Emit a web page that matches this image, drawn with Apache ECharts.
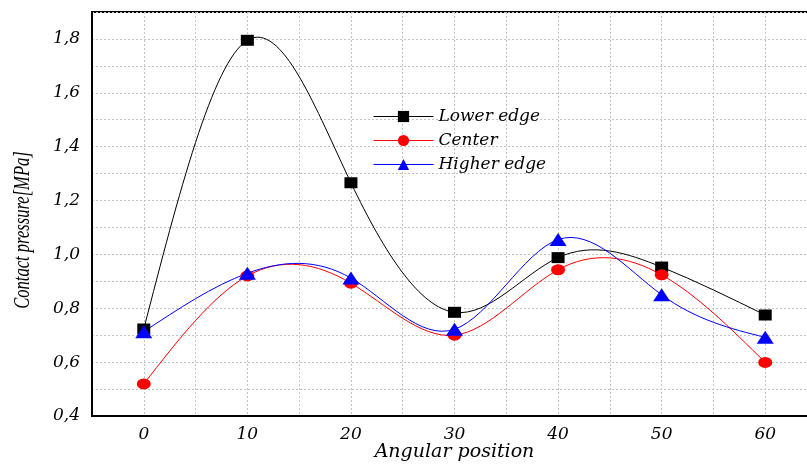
<!DOCTYPE html>
<html>
<head>
<meta charset="utf-8">
<script src="https://cdn.jsdelivr.net/npm/echarts@6/dist/echarts.min.js"></script>
<style>
  html, body { margin: 0; padding: 0; background: #fff; overflow: hidden; }
  #chart { width: 830px; height: 465px; }
</style>
</head>
<body>
<div id="chart"></div>
<script>
// angular positions (x values)
const angles = [0, 10, 20, 30, 40, 50, 60]
const lowerEdge = [0.723, 1.795, 1.266, 0.785, 0.988, 0.953, 0.775]
const center = [0.519, 0.92, 0.893, 0.70, 0.943, 0.924, 0.599]
const higherEdge = [0.713, 0.93, 0.912, 0.722, 1.055, 0.85, 0.692]
const yTickLabels = ['0,4', '0,6', '0,8', '1,0', '1,2', '1,4', '1,6', '1,8']
const xTickLabels = ['0', '10', '20', '30', '40', '50', '60']

const font = 'DejaVu Serif'
const pairs = ys => angles.map((a, i) => [a, ys[i]])

const chart = echarts.init(document.getElementById('chart'))

const gridLine = {
  show: true,
  lineStyle: { color: '#c4c4c4', type: [2, 2], width: 1 }
}

// natural cubic spline through the pixel positions, drawn as bezier pieces
const splineCurve = (data, color) => ({
  type: 'custom',
  name: '_curve',
  data: data,
  z: 2,
  silent: true,
  renderItem: (params, api) => {
    if (params.dataIndex !== 0) return null
    const pts = data.map(d => api.coord(d))
    const n = pts.length
    const h = []
    for (let i = 0; i < n - 1; i++) h.push(pts[i + 1][0] - pts[i][0])
    // solve for second derivatives (natural ends)
    const a = [], b = [], c = [], r = []
    for (let i = 1; i < n - 1; i++) {
      a.push(h[i - 1]); b.push(2 * (h[i - 1] + h[i])); c.push(h[i])
      r.push(6 * ((pts[i + 1][1] - pts[i][1]) / h[i] - (pts[i][1] - pts[i - 1][1]) / h[i - 1]))
    }
    for (let i = 1; i < b.length; i++) {
      const w = a[i] / b[i - 1]
      b[i] -= w * c[i - 1]; r[i] -= w * r[i - 1]
    }
    const s = new Array(b.length)
    for (let i = b.length - 1; i >= 0; i--) {
      s[i] = (r[i] - (i < b.length - 1 ? c[i] * s[i + 1] : 0)) / b[i]
    }
    const M = [0].concat(s, [0])
    const children = []
    for (let i = 0; i < n - 1; i++) {
      const dy = (pts[i + 1][1] - pts[i][1]) / h[i]
      const d0 = dy - h[i] * (2 * M[i] + M[i + 1]) / 6
      const d1 = dy + h[i] * (M[i] + 2 * M[i + 1]) / 6
      children.push({
        type: 'bezierCurve',
        shape: {
          x1: pts[i][0], y1: pts[i][1],
          cpx1: pts[i][0] + h[i] / 3, cpy1: pts[i][1] + d0 * h[i] / 3,
          cpx2: pts[i + 1][0] - h[i] / 3, cpy2: pts[i + 1][1] - d1 * h[i] / 3,
          x2: pts[i + 1][0], y2: pts[i + 1][1]
        },
        style: { stroke: color, fill: null, lineWidth: 1 }
      })
    }
    return { type: 'group', children: children }
  }
})

const markers = (name, data, color, symbol, size) => ({
  name: name,
  type: 'line',
  data: pairs(data),
  symbol: symbol,
  symbolSize: size,
  showAllSymbol: true,
  lineStyle: { color: color, width: 1, opacity: 0 },
  itemStyle: { color: color },
  z: 4
})

chart.setOption({
  animation: false,
  backgroundColor: '#fff',
  grid: {
    left: 92, top: 12, bottom: 49, right: 13,
    outerBoundsMode: 'none',
    containLabel: false,
    show: true, borderColor: '#000', borderWidth: 2
  },
  // y axis title: tall, condensed lettering as in the original
  graphic: [{
    type: 'text',
    x: 23, y: 230,
    rotation: Math.PI / 2,
    scaleX: 0.72,
    style: {
      text: 'Contact pressure[MPa]',
      font: 'italic 23px "Liberation Serif"',
      fill: '#000',
      align: 'center',
      verticalAlign: 'middle'
    }
  }],
  legend: {
    orient: 'vertical',
    left: 373, top: 108, padding: 0,
    itemWidth: 60, itemHeight: 14, itemGap: 7,
    textStyle: { fontFamily: font, fontStyle: 'italic', fontSize: 17, color: '#000' },
    data: [
      { name: 'Lower edge', lineStyle: { opacity: 1, width: 1, color: '#000000' } },
      { name: 'Center', lineStyle: { opacity: 1, width: 1, color: '#ff0000' } },
      { name: 'Higher edge', lineStyle: { opacity: 1, width: 1, color: '#0000ff' } }
    ]
  },
  xAxis: {
    type: 'value',
    min: -5, max: 65, interval: 5,
    name: 'Angular position',
    nameLocation: 'middle',
    nameMoveOverlap: false,
    nameGap: 27,
    nameTextStyle: { fontFamily: font, fontStyle: 'italic', fontSize: 19, color: '#000' },
    axisLine: { show: true, onZero: false, lineStyle: { color: '#000', width: 2 } },
    axisTick: { show: false },
    axisLabel: {
      margin: 10,
      fontFamily: font, fontStyle: 'italic', fontSize: 17, color: '#000',
      formatter: v => {
        const i = angles.indexOf(v)
        return i >= 0 ? xTickLabels[i] : ''
      }
    },
    splitLine: gridLine
  },
  yAxis: {
    type: 'value',
    min: 0.4, max: 1.9, interval: 0.1,
    axisLine: { show: true, onZero: false, lineStyle: { color: '#000', width: 2 } },
    axisTick: { show: false },
    axisLabel: {
      margin: 12,
      fontFamily: font, fontStyle: 'italic', fontSize: 17, color: '#000',
      formatter: v => {
        const k = Math.round(v * 10)
        if (k % 2 !== 0) return ''
        return yTickLabels[(k - 4) / 2] || ''
      }
    },
    splitLine: gridLine
  },
  series: [
    markers('Lower edge', lowerEdge, '#000000', 'rect', [13, 11]),
    markers('Center', center, '#ff0000', 'circle', [14, 11]),
    markers('Higher edge', higherEdge, '#0000ff', 'triangle', [17, 13]),
    splineCurve(pairs(lowerEdge), '#000000'),
    splineCurve(pairs(center), '#ff0000'),
    splineCurve(pairs(higherEdge), '#0000ff')
  ]
})
</script>
</body>
</html>
